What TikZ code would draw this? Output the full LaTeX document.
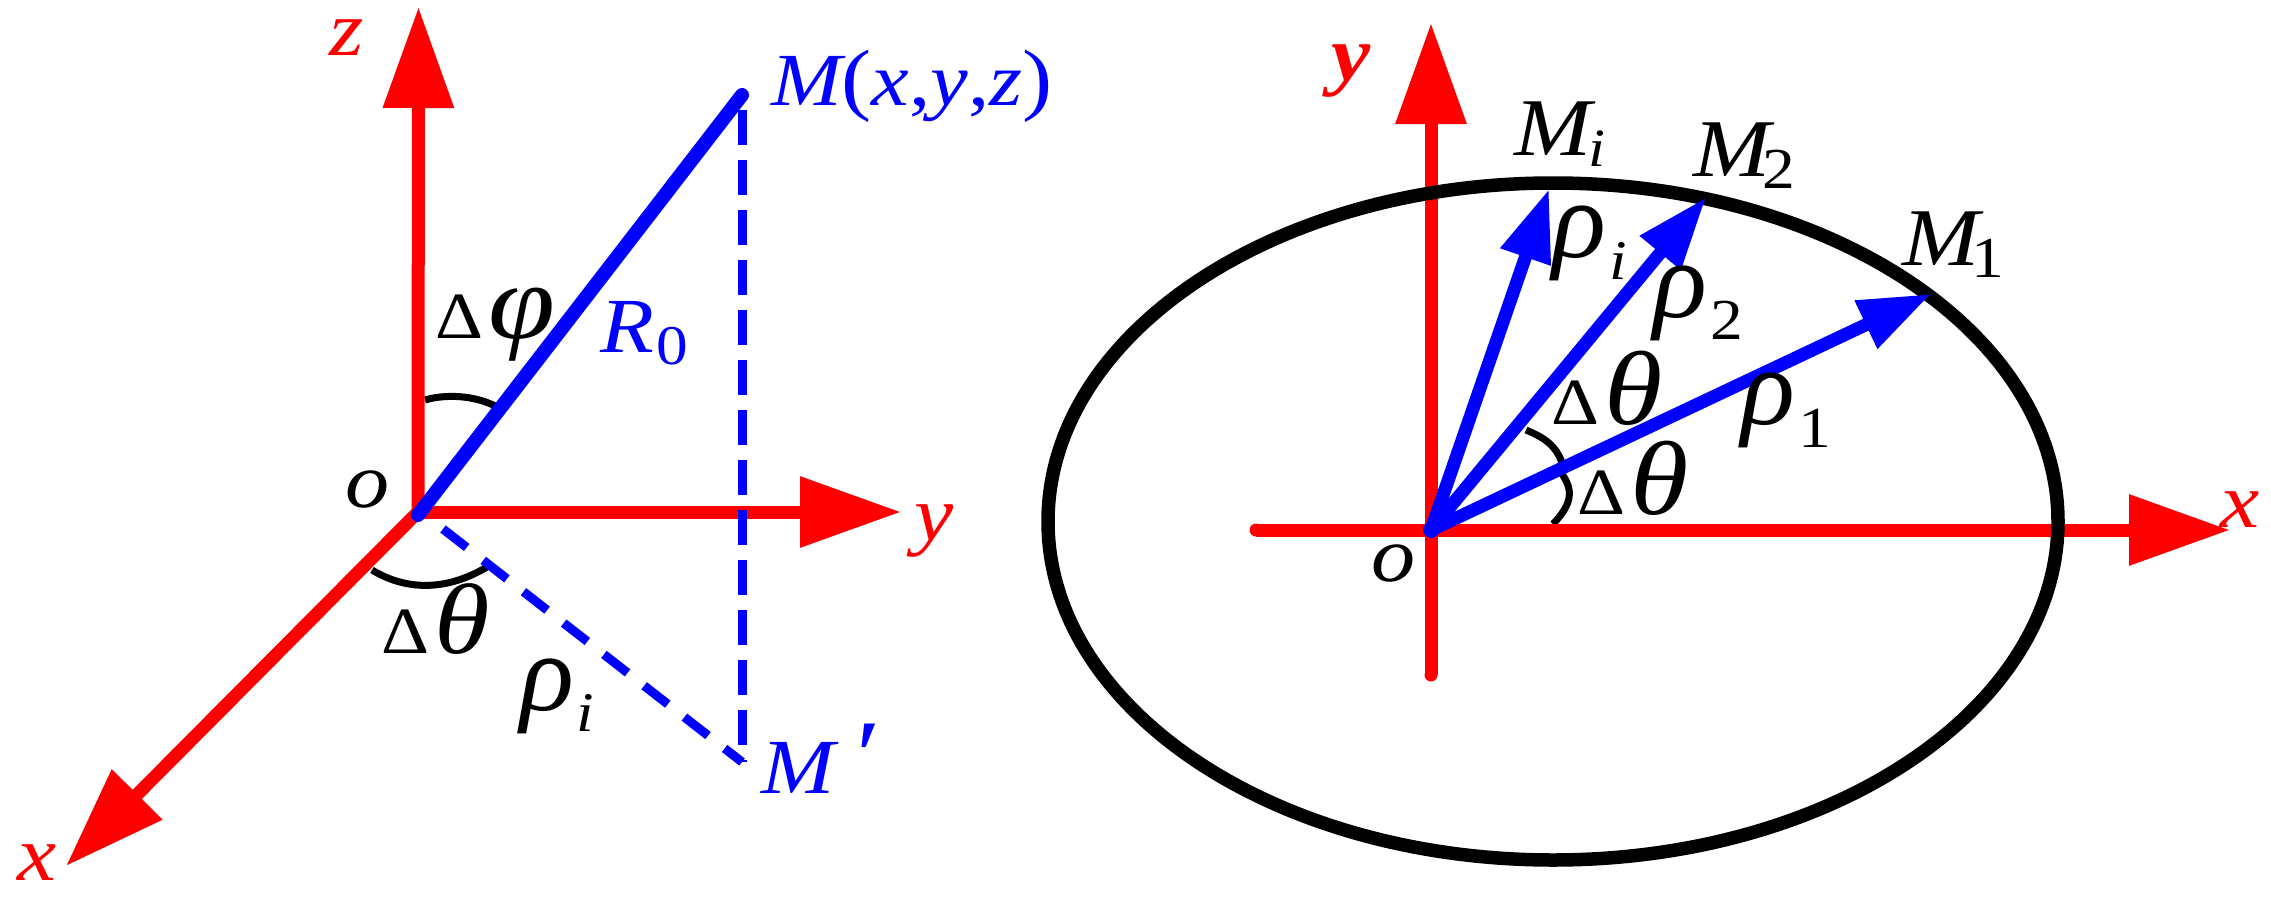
\documentclass[tikz,border=0pt]{standalone}
\usepackage{fontspec}
\setmainfont[FakeStretch=1.13]{Liberation Serif}
\newfontfamily\rhofam[FakeStretch=1.02]{Liberation Serif}
\usetikzlibrary{arrows.meta}
\definecolor{rd}{RGB}{255,0,0}
\definecolor{bl}{RGB}{0,0,255}
\newcommand{\fs}[1]{\fontsize{#1}{#1}\selectfont}
\newcommand{\dn}[2]{\raisebox{-#1pt}{#2}}
\newcommand{\delt}{{\upshape\fs{66}Δ}}
\newcommand{\rh}{{\rhofam\itshape ρ}}
\tikzset{
  lab/.style={inner sep=0pt,outer sep=0pt,anchor=base west,font=\itshape\fs{78}},
  rlab/.style={lab,text=rd},
  blab/.style={lab,text=bl},
  klab/.style={lab,text=black},
  redaxis/.style={draw=rd,line width=13pt,-{Triangle[length=101pt,width=68pt]},fill=none},
  blueline/.style={draw=bl,line width=14pt,line cap=round},
  bluedash/.style={draw=bl,line width=9pt},
  bluearrow/.style={draw=bl,line width=13pt,-{Triangle[length=72pt,width=50pt]}},
  anglearc/.style={draw=black,line width=7pt},
  curvebox/.style={draw=black,line width=13.5pt}
}
\begin{document}
\begin{tikzpicture}[x=1pt,y=-1pt]
\useasboundingbox (0,0) rectangle (2271,902);
% left diagram
\coordinate (O) at (418,512);
\coordinate (Zt) at (418.5,7);
\coordinate (Yt) at (901,512);
\coordinate (Xt) at (66,866);
\coordinate (M) at (742,95);
\coordinate (Mp) at (742,762);
\coordinate (Ob) at (418,515);
\coordinate (Dd) at (443,529);
\coordinate (Pa) at (425,400);
\coordinate (Pb) at (497,407);
\coordinate (Ta) at (372,570);
\coordinate (Tb) at (487,567);
\draw[anglearc] (Pa) .. controls (445,394) and (475,395) .. (Pb);
\draw[anglearc] (Ta) .. controls (405,590) and (445,592) .. (Tb);
\draw[redaxis,line cap=butt] (O) -- (Zt);
\draw[redaxis] (O) -- (Yt);
\draw[redaxis] (O) -- (Xt);
\draw[bluedash,dash pattern=on 35pt off 15pt,dash phase=-15pt] (M) -- (Mp);
\draw[bluedash,dash pattern=on 30pt off 21pt] (Dd) -- (Mp);
\draw[blueline] (Ob) -- (M);
\node[rlab] (zl) at (329,55) {z};
\node[rlab] (yl) at (914,540) {y};
\node[rlab] (xl) at (17,880) {x};
\node[klab] (ol) at (345,507) {o};
\node[blab,font=\itshape\fs{75}] (ml) at (771,105) {M{\upshape\fs{80}(}x{\upshape,}y{\upshape,}z{\upshape\fs{80})}};
\node[blab] (rl) at (600,352) {R\kern3pt\dn{12}{\upshape\fs{56}0}};
\node[blab] (mpl) at (761,793) {M\kern15pt\raisebox{4pt}{\fs{100}′}};
\node[klab,font=\itshape\fs{107}] (pl) at (435,338) {\delt\kern6ptφ};
\node[klab,font=\itshape\fs{100}] (tl) at (381,653) {\delt\kern6ptθ};
\node[klab,font=\itshape\fs{110}] (rhl) at (520,710) {\rh\kern3pt\dn{21}{\fs{56}i}};
% right diagram
\coordinate (Q) at (1431,530);
\coordinate (Ybot) at (1431,675);
\coordinate (Ytop) at (1431,23);
\coordinate (Xleft) at (1256,530);
\coordinate (Xright) at (2230,530);
\coordinate (Mi) at (1549,189);
\coordinate (Mb) at (1706,197.5);
\coordinate (Ma) at (1931,294);
\coordinate (La) at (1553,524);
\coordinate (Lb) at (1562,474);
\coordinate (Ua) at (1562,463);
\coordinate (Ub) at (1526,430);
\draw[anglearc] (La) .. controls (1573,503) and (1573,490) .. (Lb);
\draw[anglearc] (Ua) .. controls (1556,445) and (1543,437) .. (Ub);
\draw[redaxis] (Ybot) -- (Ytop);
\draw[redaxis] (Xleft) -- (Xright);
\fill[rd] (Ybot) circle (6.5);
\fill[rd] (Xleft) circle (6.5);
\draw[curvebox] (1553,521.5) ellipse [x radius=505,y radius=338.5];
\draw[bluearrow] (Q) -- (Mi);
\draw[bluearrow] (Q) -- (Mb);
\draw[bluearrow] (Q) -- (Ma);
\fill[bl] (Q) circle (8);
\node[rlab,font=\bfseries\itshape\fs{78}] (y2) at (1331,80) {y};
\node[rlab] (x2) at (2220,527) {x};
\node[klab] (o2) at (1371,581) {o};
\node[klab,font=\itshape\fs{82}] (m3) at (1514,155) {M\kern-3pt\dn{11}{\fs{54}i}};
\node[klab,font=\itshape\fs{82}] (m4) at (1693,176) {M\kern-8pt\dn{12}{\upshape\fs{58}2}};
\node[klab,font=\itshape\fs{82}] (m5) at (1902,265) {M\kern-8pt\dn{12}{\upshape\fs{58}1}};
\node[klab,font=\itshape\fs{110}] (r3) at (1552,257) {\rh\kern4pt\dn{22}{\fs{56}i}};
\node[klab,font=\itshape\fs{110}] (r4) at (1653,317) {\rh\kern4pt\dn{22}{\upshape\fs{58}2}};
\node[klab,font=\itshape\fs{110}] (r5) at (1741,424) {\rh\kern4pt\dn{23}{\upshape\fs{58}1}};
\node[klab,font=\itshape\fs{105}] (t2) at (1551,424) {\delt\kern6ptθ};
\node[klab,font=\itshape\fs{105}] (t3) at (1577,514) {\delt\kern6ptθ};
\end{tikzpicture}
\end{document}
